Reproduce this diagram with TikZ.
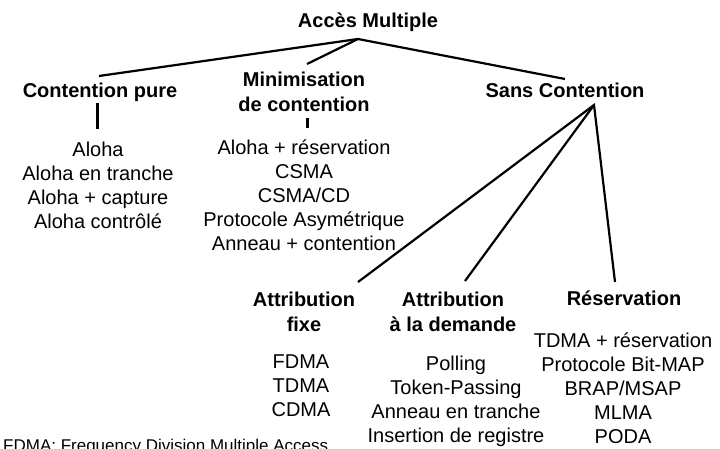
\documentclass[tikz,border=0pt]{standalone}
\usepackage{fontspec}
\setmainfont{Liberation Sans}

\begin{document}
\begin{tikzpicture}[x=1pt,y=-1pt,
  head/.style={font=\fontsize{20}{25}\selectfont\bfseries, inner sep=0pt, align=center},
  item/.style={font=\fontsize{20}{24}\selectfont, inner sep=0pt, align=center},
  branch/.style={line width=2.2pt},
  stub/.style={line width=3pt}]
\clip (0,0) rectangle (720,449);

\node[head, anchor=base] (acces) at (368,27.5) {Accès Multiple};
\node[head, anchor=base] (pure) at (100,98) {Contention pure};
\node[head, anchor=north] (mini) at (304,72) {Minimisation\\de contention};
\node[head, anchor=base] (sans) at (565,98) {Sans Contention};

\node[item, anchor=north] (pure-list) at (98,142) {Aloha\\Aloha en tranche\\Aloha + capture\\Aloha contrôlé};
\node[item, anchor=north] (mini-list) at (304,140) {Aloha + réservation\\CSMA\\CSMA/CD\\Protocole Asymétrique\\Anneau + contention};

\node[head, anchor=north] (fixe) at (304,292) {Attribution\\fixe};
\node[head, anchor=north] (dem) at (453,292) {Attribution\\à la demande};
\node[head, anchor=base] (resv) at (624,305) {Réservation};

\node[item, anchor=north] (fixe-list) at (301,355) {FDMA\\TDMA\\CDMA};
\node[item, anchor=north] (dem-list) at (456,356) {Polling\\Token-Passing\\Anneau en tranche\\Insertion de registre};
\node[item, anchor=north] (resv-list) at (623,333) {TDMA + réservation\\Protocole Bit-MAP\\BRAP/MSAP\\MLMA\\PODA};

\node[font=\fontsize{17}{20}\selectfont, inner sep=0pt, anchor=base west] (note) at (3,451.5) {FDMA: Frequency Division Multiple Access};

\coordinate (am-fork) at (358,39);
\coordinate (pure-in) at (99,76);
\coordinate (mini-in) at (307,64);
\coordinate (sans-in) at (565,79);
\coordinate (sans-fork) at (594,105);
\coordinate (fixe-in) at (358,282);
\coordinate (dem-in) at (465,281);
\coordinate (resv-in) at (615,282);
\coordinate (pure-a) at (97,103);
\coordinate (pure-b) at (97,129);
\coordinate (mini-a) at (307,118);
\coordinate (mini-b) at (307,128);

\draw[branch] (pure-in) -- (am-fork) -- (sans-in);
\draw[branch] (am-fork) -- (mini-in);
\draw[branch] (fixe-in) -- (sans-fork) -- (resv-in);
\draw[branch] (sans-fork) -- (dem-in);
\draw[stub] (pure-a) -- (pure-b);
\draw[stub] (mini-a) -- (mini-b);
\end{tikzpicture}
\end{document}
